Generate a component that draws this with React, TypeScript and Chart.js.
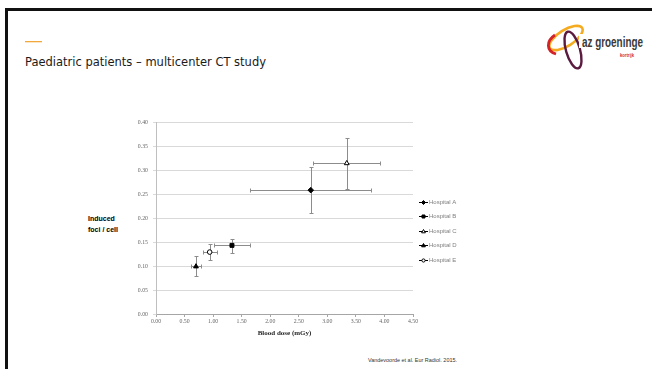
import { useEffect, useRef } from 'react';
import { Chart, registerables } from 'chart.js';

Chart.register(...registerables);

const hospitals = ['Hospital A', 'Hospital B', 'Hospital C', 'Hospital D', 'Hospital E'];
const doseMean = [2.71, 1.33, 3.34, 0.70, 0.94];
const doseLow = [1.65, 1.02, 2.75, 0.62, 0.83];
const doseHigh = [3.77, 1.64, 3.93, 0.79, 1.06];
const fociMean = [0.258, 0.143, 0.314, 0.099, 0.129];
const fociLow = [0.21, 0.127, 0.26, 0.079, 0.112];
const fociHigh = [0.306, 0.156, 0.366, 0.121, 0.146];
const pointStyles = ['rectRot', 'rect', 'triangle', 'triangle', 'circle'];
const pointFills = ['#000000', '#000000', '#ffffff', '#000000', '#ffffff'];
const xTickValues = [0, 0.5, 1, 1.5, 2, 2.5, 3, 3.5, 4, 4.5];
const yTickValues = [0, 0.05, 0.1, 0.15, 0.2, 0.25, 0.3, 0.35, 0.4];

const W = 652;
const H = 369;

function drawMarker(ctx: CanvasRenderingContext2D, style: string, x: number, y: number, r: number, fill: string) {
  ctx.beginPath();
  if (style === 'rect') {
    const s = r * 0.75;
    ctx.rect(x - s, y - s, 2 * s, 2 * s);
  } else if (style === 'rectRot') {
    ctx.moveTo(x, y - r);
    ctx.lineTo(x + r, y);
    ctx.lineTo(x, y + r);
    ctx.lineTo(x - r, y);
    ctx.closePath();
  } else if (style === 'triangle') {
    ctx.moveTo(x, y - r);
    ctx.lineTo(x + r * 0.95, y + r * 0.65);
    ctx.lineTo(x - r * 0.95, y + r * 0.65);
    ctx.closePath();
  } else {
    ctx.arc(x, y, r * 0.8, 0, Math.PI * 2);
  }
  ctx.fillStyle = fill;
  ctx.fill();
  ctx.strokeStyle = '#000';
  ctx.lineWidth = 1;
  ctx.stroke();
}

const errorBarsPlugin = {
  id: 'errorBars',
  beforeDatasetsDraw(chart: any) {
    const { ctx, scales } = chart;
    const xs = scales.x;
    const ys = scales.y;
    ctx.save();
    ctx.strokeStyle = '#8c8c8c';
    ctx.lineWidth = 1;
    hospitals.forEach((_, i) => {
      const px = Math.round(xs.getPixelForValue(doseMean[i])) + 0.5;
      const py = Math.round(ys.getPixelForValue(fociMean[i])) + 0.5;
      const x0 = Math.round(xs.getPixelForValue(doseLow[i])) + 0.5;
      const x1 = Math.round(xs.getPixelForValue(doseHigh[i])) + 0.5;
      const y0 = Math.round(ys.getPixelForValue(fociLow[i])) + 0.5;
      const y1 = Math.round(ys.getPixelForValue(fociHigh[i])) + 0.5;
      const c = 2;
      ctx.beginPath();
      ctx.moveTo(x0, py); ctx.lineTo(x1, py);
      ctx.moveTo(x0, py - c); ctx.lineTo(x0, py + c);
      ctx.moveTo(x1, py - c); ctx.lineTo(x1, py + c);
      ctx.moveTo(px, y0); ctx.lineTo(px, y1);
      ctx.moveTo(px - c, y0); ctx.lineTo(px + c, y0);
      ctx.moveTo(px - c, y1); ctx.lineTo(px + c, y1);
      ctx.stroke();
    });
    ctx.restore();
  },
};

const legendPlugin = {
  id: 'sideLegend',
  afterDraw(chart: any) {
    const { ctx } = chart;
    const x0 = 419;
    const y0 = 201.5;
    const step = 14.5;
    ctx.save();
    chart.data.datasets.forEach((ds: any, i: number) => {
      const y = Math.round(y0 + i * step) + 0.5;
      ctx.strokeStyle = '#000';
      ctx.lineWidth = 1;
      ctx.beginPath();
      ctx.moveTo(x0, y);
      ctx.lineTo(x0 + 9, y);
      ctx.stroke();
      drawMarker(ctx, ds.pointStyle, x0 + 4.5, y, 2, ds.pointBackgroundColor);
      ctx.fillStyle = '#7f7f7f';
      ctx.font = '6px "Liberation Sans", Arial, sans-serif';
      ctx.textBaseline = 'middle';
      ctx.textAlign = 'left';
      ctx.fillText(ds.label, x0 + 10, y);
    });
    ctx.restore();
  },
};

function Logo() {
  return (
    <g>
      <ellipse cx={566} cy={38} rx={19} ry={8} transform="rotate(-32 566 38)" fill="none" stroke="#f5ab1f" strokeWidth={2.6} />
      <path d="M555 35 C 546 41, 546 51, 556 54" fill="none" stroke="#d2232a" strokeWidth={2.8} />
      <ellipse cx={573} cy={50} rx={7} ry={19} transform="rotate(-16 573 50)" fill="none" stroke="#5b1a3e" strokeWidth={2.4} />
      <rect x={579} y={34} width={6} height={14} fill="#ffffff" />
      <text x={582} y={47} fontFamily="'Liberation Sans', Arial, sans-serif" fontWeight="bold" fontSize={14.5} fill="#3a3a3a" textLength={61} lengthAdjust="spacingAndGlyphs">az groeninge</text>
      <text x={620} y={57} fontFamily="'Liberation Sans', Arial, sans-serif" fontWeight="bold" fontSize={5.5} fill="#d2232a" textLength={14} lengthAdjust="spacingAndGlyphs">kortrijk</text>
    </g>
  );
}

export default function App() {
  const canvasRef = useRef<HTMLCanvasElement | null>(null);

  useEffect(() => {
    const canvas = canvasRef.current;
    if (!canvas) return;
    const datasets = hospitals.map((name, i) => ({
      label: name,
      data: [{ x: doseMean[i], y: fociMean[i] }],
      pointStyle: pointStyles[i],
      pointBackgroundColor: pointFills[i],
      pointBorderColor: '#000000',
      pointBorderWidth: 1,
      pointRadius: pointStyles[i] === 'circle' ? 2.3 : 2.8,
      showLine: false,
    }));
    const chart = new Chart(canvas, {
      type: 'scatter',
      data: { datasets },
      options: {
        animation: false,
        responsive: false,
        devicePixelRatio: 1,
        events: [],
        layout: { padding: { left: 100, top: 122, right: 239, bottom: 25 } },
        plugins: {
          legend: { display: false },
          tooltip: { enabled: false },
          title: { display: false },
        },
        scales: {
          x: {
            type: 'linear',
            min: 0,
            max: 4.5,
            afterBuildTicks: (scale: any) => {
              scale.ticks = xTickValues.map((v) => ({ value: v }));
            },
            afterFit: (scale: any) => {
              scale.height = 30;
            },
            grid: { drawOnChartArea: false, drawTicks: true, tickLength: 3, color: '#a6a6a6' },
            border: { color: '#a6a6a6', width: 1 },
            ticks: {
              padding: 1,
              color: '#666666',
              font: { family: "'Liberation Serif', 'Times New Roman', serif", size: 5.8 },
              callback: (v: any) => Number(v).toFixed(2),
              maxRotation: 0,
            },
            title: {
              display: true,
              text: 'Blood dose (mGy)',
              color: '#262626',
              font: { family: "'Liberation Serif', 'Times New Roman', serif", size: 7, weight: 'bold' },
              padding: { top: 0, bottom: 7 },
            },
          },
          y: {
            type: 'linear',
            min: 0,
            max: 0.4,
            afterBuildTicks: (scale: any) => {
              scale.ticks = yTickValues.map((v) => ({ value: v }));
            },
            afterFit: (scale: any) => {
              scale.width = 56;
            },
            grid: { drawOnChartArea: true, drawTicks: true, tickLength: 3, color: '#d9d9d9' },
            border: { color: '#bfbfbf', width: 1 },
            ticks: {
              padding: 5,
              color: '#666666',
              font: { family: "'Liberation Serif', 'Times New Roman', serif", size: 5.8 },
              callback: (v: any) => Number(v).toFixed(2),
            },
          },
        },
      },
      plugins: [errorBarsPlugin, legendPlugin],
    } as any);
    return () => chart.destroy();
  }, []);

  return (
    <div style={{ position: 'fixed', left: 0, top: 0, width: W, height: H, background: '#ffffff', overflow: 'hidden' }}>
      <svg width={W} height={H} style={{ position: 'absolute', left: 0, top: 0 }}>
        <rect x={0} y={0} width={W} height={H} fill="#ffffff" />
        <line x1={5} y1={9.5} x2={W} y2={9.5} stroke="#111" strokeWidth={3} />
        <line x1={6.5} y1={8} x2={6.5} y2={H} stroke="#111" strokeWidth={3} />
        <rect x={25} y={41} width={17} height={1.3} fill="#f2a93b" />
        <text x={25} y={66} fontFamily="'DejaVu Sans', Verdana, sans-serif" fontSize={13} fill="#1a1a1a" textLength={241} lengthAdjust="spacingAndGlyphs">Paediatric patients – multicenter CT study</text>
        <text x={88} y={221} fontFamily="'Liberation Sans', Arial, sans-serif" fontWeight="bold" fontSize={7} fill="#000">Induced</text>
        <text x={88} y={232} fontFamily="'Liberation Sans', Arial, sans-serif" fontWeight="bold" fontSize={7} fill="#000">foci / cell</text>
        <text x={368} y={362} fontFamily="'Liberation Sans', Arial, sans-serif" fontSize={5.5} fill="#333" textLength={89} lengthAdjust="spacingAndGlyphs">Vandevoorde  et al. Eur Radiol. 2015.</text>
        <Logo />
      </svg>
      <canvas ref={canvasRef} width={W} height={H} style={{ position: 'absolute', left: 0, top: 0, width: W, height: H }} />
    </div>
  );
}
